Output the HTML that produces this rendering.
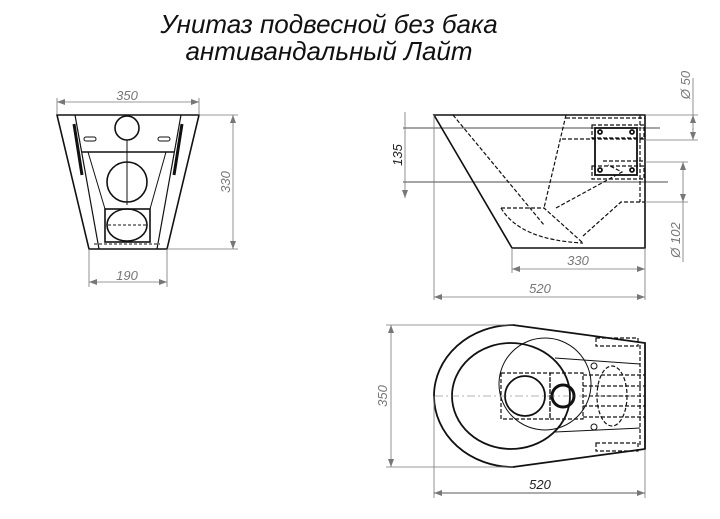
<!DOCTYPE html>
<html><head><meta charset="utf-8"><style>
html,body{margin:0;padding:0;background:#fff;}
svg{display:block}
text{font-family:"Liberation Sans",sans-serif;}
</style></head><body>
<svg width="720" height="519" viewBox="0 0 720 519" xmlns="http://www.w3.org/2000/svg">
<defs>
<marker id="a" markerWidth="8" markerHeight="6" refX="8" refY="3" orient="auto-start-reverse" markerUnits="userSpaceOnUse"><path d="M0,0 L8,3 L0,6 z" fill="#777"/></marker>
</defs>
<text x="329" y="33" font-size="26" font-style="italic" text-anchor="middle" fill="#111">Унитаз подвесной без бака</text>
<text x="329" y="60" font-size="26" font-style="italic" text-anchor="middle" fill="#111">антивандальный Лайт</text>

<!-- FRONT VIEW -->
<g stroke="#111" fill="none" stroke-width="1.6">
<path d="M57,115 L199,115 L167,249 L89,249 Z"/>
<path d="M75,115 L99,249 M181,115 L157,249" stroke-width="1.2"/>
<path d="M82,152 L174,152" />
<circle cx="127" cy="128" r="12"/>
<circle cx="127" cy="182" r="20"/>
<rect x="105" y="209" width="45" height="33" />
<ellipse cx="127" cy="225" rx="20" ry="16"/>
<path d="M88,152 L105,209 M166,152 L150,209" stroke-width="1"/>
<path d="M74,124 L82,175 M182,124 L174,175" stroke-width="3"/>
<rect x="84" y="137" width="12" height="4" rx="2" stroke-width="1"/>
<rect x="158" y="137" width="12" height="4" rx="2" stroke-width="1"/>
<path d="M127,140 L127,205" stroke-width="1"/>
<path d="M108,225 L146,225" stroke-dasharray="3,2" stroke-width="1"/>
<path d="M94,244 L160,244" stroke-dasharray="3,2" stroke-width="1"/>
</g>
<g stroke="#777" stroke-width="0.8" fill="none">
<path d="M57,115 L57,98 M199,115 L199,98 M199,115 L238,115 M167,249 L238,249 M89,249 L89,287 M167,249 L167,287"/>
<path d="M57,102 L199,102" marker-start="url(#a)" marker-end="url(#a)"/>
<path d="M233,115 L233,249" marker-start="url(#a)" marker-end="url(#a)"/>
<path d="M89,282 L167,282" marker-start="url(#a)" marker-end="url(#a)"/>
</g>
<g fill="#777" font-size="13" font-style="italic" text-anchor="middle">
<text x="127" y="100">350</text>
<text x="127" y="280">190</text>
<text transform="translate(230,182) rotate(-90)">330</text>
</g>

<!-- SIDE VIEW -->
<g stroke="#111" fill="none" stroke-width="1.6">
<path d="M434,115 L645,115 L645,248 L512,248 Z"/>
</g>
<g stroke="#111" fill="none" stroke-width="1.2" stroke-dasharray="4,2">
<path d="M453,115 L544,225"/>
<path d="M566,115 L544,208"/>
<path d="M501,208 L544,208 L583,243"/>
<path d="M501,208 Q520,240 583,243"/>
<path d="M556,208 L622,172 L608,165"/>
<path d="M583,236 L621,202 L645,202"/>
<path d="M566,118 L645,118 M562,139 L645,139"/>
<rect x="592" y="125" width="52" height="13"/>
<rect x="592" y="166" width="52" height="13"/>
<path d="M603,161 L645,161 M640,115 L640,202"/>
</g>
<g stroke="#111" fill="none" stroke-width="1.8">
<rect x="595" y="128" width="42" height="47"/>
<circle cx="600" cy="132" r="2"/><circle cx="632" cy="132" r="2"/>
<circle cx="600" cy="170" r="2"/><circle cx="632" cy="170" r="2"/>
</g>
<g stroke="#111" stroke-width="0.8" fill="none">
<path d="M403,128 L660,128 M403,182 L668,182"/>
</g>
<g stroke="#777" stroke-width="0.8" fill="none">
<path d="M434,115 L434,300 M645,248 L645,300 M512,248 L512,273"/>
<path d="M645,115 L698,115 M645,140 L698,140 M645,162 L688,162 M645,202 L688,202"/>
<path d="M405,112 L405,128 M405,182 L405,198" marker-end="url(#a)"/>
<path d="M405,128 L405,182"/>
<path d="M693,78 L693,115" /><path d="M693,130 L693,115" marker-end="url(#a)"/><path d="M693,128 L693,140" marker-end="url(#a)"/>
<path d="M683,162 L683,202" marker-start="url(#a)" marker-end="url(#a)"/>
<path d="M683,202 L683,262"/>
<path d="M512,269 L645,269" marker-start="url(#a)" marker-end="url(#a)"/>
<path d="M434,297 L645,297" marker-start="url(#a)" marker-end="url(#a)"/>
</g>
<g fill="#777" font-size="13" font-style="italic" text-anchor="middle">
<text x="578" y="265">330</text>
<text x="540" y="293">520</text>
<text transform="translate(402,155) rotate(-90)" fill="#222">135</text>
<text transform="translate(690,85) rotate(-90)">Ø 50</text>
<text transform="translate(680,240) rotate(-90)">Ø 102</text>
</g>

<!-- TOP VIEW -->
<g stroke="#111" fill="none" stroke-width="1.8">
<path d="M513,325 A79,71 0 1 0 513,467 L645,449 L645,343 Z"/>
<ellipse cx="511" cy="396" rx="59" ry="53"/>
<circle cx="525" cy="396" r="20"/>
<circle cx="563" cy="396" r="11" stroke-width="3"/>
</g>
<g stroke="#111" fill="none" stroke-width="1">
<circle cx="545" cy="384" r="46"/>
<path d="M555,358 L640,364 M555,432 L640,428"/>
<circle cx="594" cy="366" r="3"/><circle cx="594" cy="427" r="3"/>
</g>
<g stroke="#111" fill="none" stroke-width="1.2" stroke-dasharray="4,2">
<rect x="501" y="373" width="49" height="46"/>
<rect x="550" y="373" width="33" height="46"/>
<ellipse cx="612" cy="396" rx="15" ry="30"/>
<path d="M583,375 L645,375 M583,386 L645,386 M583,396 L645,396 M583,406 L645,406 M583,417 L645,417"/>
<rect x="596" y="338" width="42" height="8"/>
<rect x="596" y="443" width="42" height="8"/>
<path d="M640,345 L640,447"/>
</g>
<path d="M435,396 L645,396" stroke="#666" stroke-width="0.6" stroke-dasharray="8,3,2,3"/>
<g stroke="#777" stroke-width="0.8" fill="none">
<path d="M513,325 L386,325 M513,467 L386,467 M434,396 L434,498 M645,449 L645,498"/>
<path d="M391,325 L391,467" marker-start="url(#a)" marker-end="url(#a)"/>
<path d="M434,493 L645,493" marker-start="url(#a)" marker-end="url(#a)" stroke="#222"/>
</g>
<g font-size="13" font-style="italic" text-anchor="middle">
<text x="540" y="489" fill="#222">520</text>
<text transform="translate(387,396) rotate(-90)" fill="#777">350</text>
</g>
</svg>
</body></html>
